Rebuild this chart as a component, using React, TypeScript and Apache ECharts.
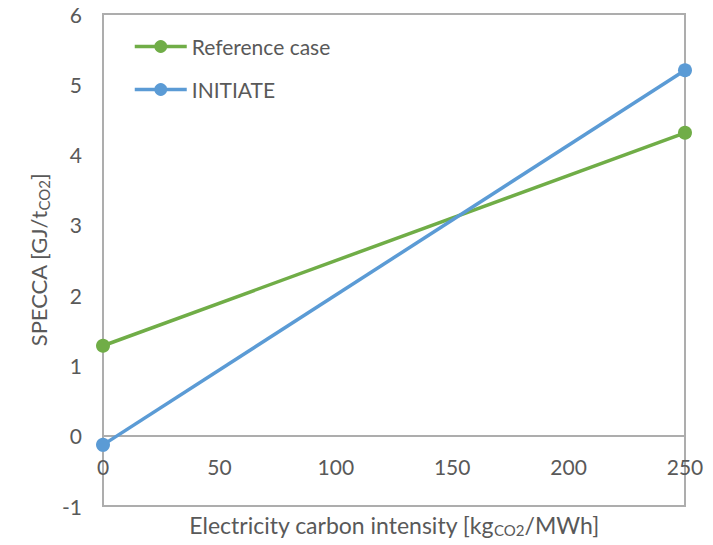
import React, { useEffect, useRef } from "react";
import * as echarts from "echarts";

const xValues = [0, 250];
const referenceCase = [1.28, 4.31];
const initiate = [-0.13, 5.2];
const seriesNames = ["Reference case", "INITIATE"];

const FONT = "Lato";
const TXT = "#595959";
const FRAME = "#ADADAD";

export default function App() {
  const ref = useRef<HTMLDivElement>(null);
  useEffect(() => {
    if (!ref.current) return;
    const chart = echarts.init(ref.current, undefined, { renderer: "svg" });
    const plotH = 545 - 14 - 39;
    const zeroOffset = -(plotH / 7);
    chart.setOption({
      animation: false,
      grid: {
        left: 103,
        right: 28,
        top: 14,
        bottom: 39,
        show: true,
        borderColor: FRAME,
        borderWidth: 2,
        backgroundColor: "transparent",
      },
      legend: {
        orient: "vertical",
        left: 128,
        top: 31,
        itemWidth: 52,
        itemHeight: 16,
        itemGap: 22,
        lineStyle: { width: 3.5 },
        textStyle: { color: TXT, fontFamily: FONT, fontSize: 21 },
        data: seriesNames,
      },
      xAxis: {
        type: "value",
        min: 0,
        max: 250,
        interval: 50,
        offset: zeroOffset,
        axisLine: { onZero: false, lineStyle: { color: FRAME, width: 2 } },
        axisTick: { show: false },
        splitLine: { show: false },
        axisLabel: { color: TXT, fontFamily: FONT, fontSize: 21, margin: 20 },
      },
      yAxis: {
        type: "value",
        min: -1,
        max: 6,
        interval: 1,
        axisLine: { show: false },
        axisTick: { show: false },
        splitLine: { show: false },
        axisLabel: { color: TXT, fontFamily: FONT, fontSize: 21, margin: 21 },
        name: "SPECCA [GJ/t{sub|CO2}]",
        nameLocation: "middle",
        nameGap: 49,
        nameRotate: 90,
        nameTextStyle: {
          color: TXT,
          fontFamily: FONT,
          fontSize: 22,
          rich: {
            sub: { fontSize: 15, verticalAlign: "bottom", padding: [10, 0, 0, 0], color: TXT, fontFamily: FONT },
          },
        },
      },
      graphic: [
        {
          type: "text",
          x: 394,
          y: 525,
          style: {
            text: "Electricity carbon intensity [kg{sub|CO2}/MWh]",
            fill: TXT,
            font: `23px "${FONT}"`,
            align: "center",
            verticalAlign: "middle",
            rich: {
              sub: { fontSize: 15, fontFamily: FONT, fill: TXT, padding: [10, 0, 0, 0] },
            },
          },
        },
      ],
      series: [
        {
          name: seriesNames[0],
          type: "line",
          data: xValues.map((x, i) => [x, referenceCase[i]]),
          symbol: "circle",
          symbolSize: 14,
          itemStyle: { color: "#70AD47" },
          lineStyle: { color: "#70AD47", width: 3.5 },
        },
        {
          name: seriesNames[1],
          type: "line",
          data: xValues.map((x, i) => [x, initiate[i]]),
          symbol: "circle",
          symbolSize: 14,
          itemStyle: { color: "#5B9BD5" },
          lineStyle: { color: "#5B9BD5", width: 3.5 },
        },
      ],
    });
    return () => chart.dispose();
  }, []);
  return <div ref={ref} style={{ width: 713, height: 545, position: "absolute", left: 0, top: 0 }} />;
}
